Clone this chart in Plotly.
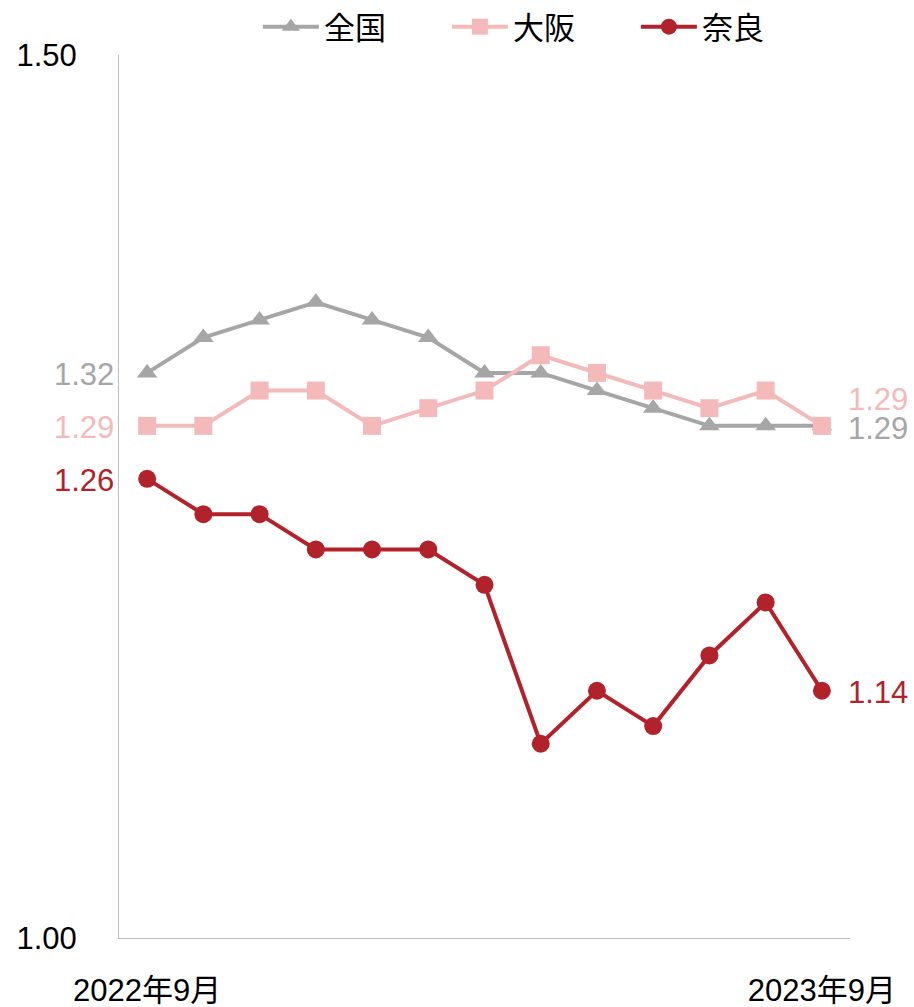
import plotly.graph_objects as go

months = ["2022年9月", "2022年10月", "2022年11月", "2022年12月", "2023年1月", "2023年2月",
          "2023年3月", "2023年4月", "2023年5月", "2023年6月", "2023年7月", "2023年8月", "2023年9月"]
zenkoku = [1.32, 1.34, 1.35, 1.36, 1.35, 1.34, 1.32, 1.32, 1.31, 1.30, 1.29, 1.29, 1.29]
osaka = [1.29, 1.29, 1.31, 1.31, 1.29, 1.30, 1.31, 1.33, 1.32, 1.31, 1.30, 1.31, 1.29]
nara = [1.26, 1.24, 1.24, 1.22, 1.22, 1.22, 1.20, 1.11, 1.14, 1.12, 1.16, 1.19, 1.14]

series = [
    ("全国", zenkoku, "#A6A6A6", "triangle-up"),
    ("大阪", osaka, "#F4B9B9", "square"),
    ("奈良", nara, "#B2222A", "circle"),
]

FONT = "Liberation Sans, Arial, Noto Sans CJK JP"
FS = 31
x = list(range(len(months)))

fig = go.Figure()
for name, vals, color, sym in series:
    fig.add_trace(go.Scatter(
        x=x, y=vals, name=name, mode="lines+markers",
        line=dict(color=color, width=4),
        marker=dict(symbol=sym, size=18, color=color),
    ))

# data labels: first and last values
left_labels = [(zenkoku[0], "#A6A6A6"), (osaka[0], "#F4B9B9"), (nara[0], "#B2222A")]
for v, c in left_labels:
    fig.add_annotation(x=x[0], y=v, text=f"{v:.2f}", showarrow=False, yshift=-2,
                       xanchor="right", xshift=-31, font=dict(size=FS, color=c, family=FONT))
right_labels = [(osaka[-1], "#F4B9B9", 26), (zenkoku[-1], "#A6A6A6", -3), (nara[-1], "#B2222A", -2)]
for v, c, ys in right_labels:
    fig.add_annotation(x=x[-1], y=v, text=f"{v:.2f}", showarrow=False, yshift=ys,
                       xanchor="left", xshift=24, font=dict(size=FS, color=c, family=FONT))

fig.update_layout(
    width=914, height=1007,
    margin=dict(l=119, r=64, t=55, b=69, autoexpand=False),
    plot_bgcolor="white", paper_bgcolor="white",
    font=dict(family=FONT, size=FS, color="#000000"),
    showlegend=True,
    legend=dict(orientation="h", x=0.19, xanchor="left", y=1.0, yanchor="top",
                yref="container", font=dict(size=FS), itemwidth=56,
                entrywidth=118, entrywidthmode="pixels",
                traceorder="normal"),
    xaxis=dict(range=[-0.5, 12.5], tickvals=[0, 12], ticktext=[months[0], months[-1]],
               showgrid=False, zeroline=False, showline=True, linecolor="#BFBFBF", linewidth=1,
               ticks="", ticklabelstandoff=25, automargin=False),
    yaxis=dict(range=[1.0, 1.5], tickvals=[1.0, 1.5], ticktext=["1.00", "1.50"],
               showgrid=False, zeroline=False, showline=True, linecolor="#BFBFBF", linewidth=1,
               ticks="", ticklabelstandoff=35, automargin=False),
)

fig.write_html("out.html", config={"displayModeBar": False},
               post_script="document.body.style.margin='0';document.body.style.padding='0';"
                           "document.body.style.overflow='hidden';")
